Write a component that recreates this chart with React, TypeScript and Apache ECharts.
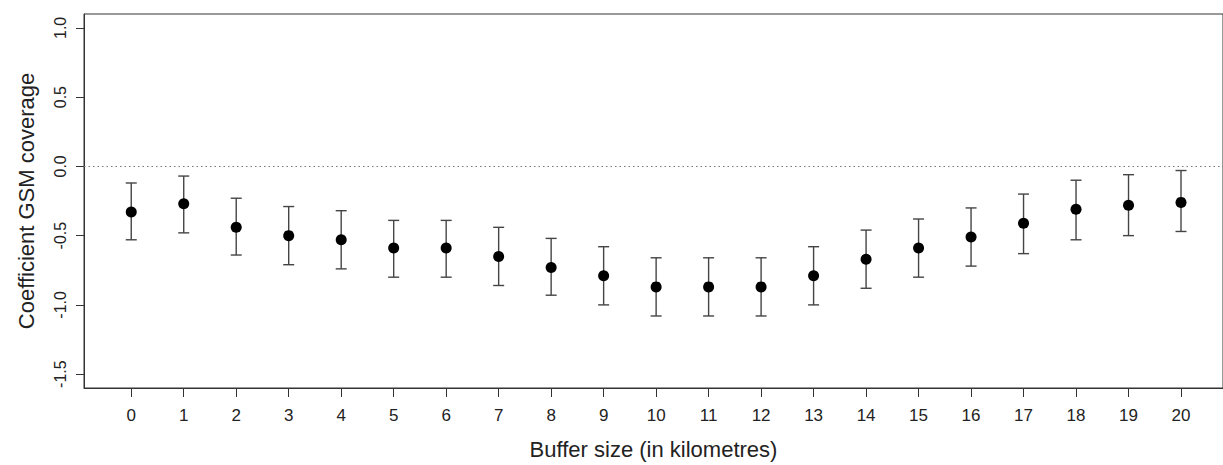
import React, { useEffect, useRef } from "react";
import * as echarts from "echarts";

const bufferSizes = [0, 1, 2, 3, 4, 5, 6, 7, 8, 9, 10, 11, 12, 13, 14, 15, 16, 17, 18, 19, 20];
const estimates = [-0.33, -0.27, -0.44, -0.5, -0.53, -0.59, -0.59, -0.65, -0.73, -0.79, -0.87, -0.87, -0.87, -0.79, -0.67, -0.59, -0.51, -0.41, -0.31, -0.28, -0.26];
const lowerCI = [-0.53, -0.48, -0.64, -0.71, -0.74, -0.8, -0.8, -0.86, -0.93, -1.0, -1.08, -1.08, -1.08, -1.0, -0.88, -0.8, -0.72, -0.63, -0.53, -0.5, -0.47];
const upperCI = [-0.12, -0.07, -0.23, -0.29, -0.32, -0.39, -0.39, -0.44, -0.52, -0.58, -0.66, -0.66, -0.66, -0.58, -0.46, -0.38, -0.3, -0.2, -0.1, -0.06, -0.03];
const yTicks = [-1.5, -1.0, -0.5, 0.0, 0.5, 1.0];
const xTicks = bufferSizes;

const FONT = "Liberation Sans, Arial, Helvetica, sans-serif";

export default function App() {
  const ref = useRef<HTMLDivElement>(null);
  useEffect(() => {
    if (!ref.current) return;
    const chart = echarts.init(ref.current, undefined, { renderer: "svg" });
    chart.setOption({
      animation: false,
      backgroundColor: "#ffffff",
      grid: {
        left: 84,
        top: 14,
        width: 1145,
        height: 378,
        show: true,
        borderColor: "#333",
        borderWidth: 1,
        backgroundColor: "transparent",
      },
      xAxis: {
        type: "value",
        min: -0.9,
        max: 20.8,
        name: "Buffer size (in kilometres)",
        nameLocation: "middle",
        nameGap: 50,
        nameTextStyle: { fontFamily: FONT, fontSize: 22, color: "#222" },
        axisLine: { show: true, onZero: false, lineStyle: { color: "#333", width: 1 } },
        axisTick: { show: true, length: 9, customValues: xTicks, lineStyle: { color: "#333" } },
        axisLabel: {
          customValues: xTicks,
          fontFamily: FONT,
          fontSize: 17,
          color: "#222",
          margin: 19,
        },
        splitLine: { show: false },
      },
      yAxis: {
        type: "value",
        min: -1.6,
        max: 1.1,
        name: "Coefficient GSM coverage",
        nameLocation: "middle",
        nameGap: 47,
        nameRotate: 90,
        nameTextStyle: { fontFamily: FONT, fontSize: 22, color: "#222" },
        axisLine: { show: true, onZero: false, lineStyle: { color: "#333", width: 1 } },
        axisTick: { show: true, length: 8, customValues: yTicks, lineStyle: { color: "#333" } },
        axisLabel: {
          customValues: yTicks,
          rotate: 90,
          fontFamily: FONT,
          fontSize: 16,
          color: "#222",
          margin: 16,
          formatter: (v: number) => v.toFixed(1),
        },
        splitLine: { show: false },
      },
      series: [
        {
          type: "custom",
          data: bufferSizes.map((x, i) => [x, lowerCI[i], upperCI[i]]),
          renderItem: (params: any, api: any) => {
            const x = api.value(0);
            const lo = api.coord([x, api.value(1)]);
            const hi = api.coord([x, api.value(2)]);
            const hw = 5.5;
            const style = { stroke: "#444", lineWidth: 1.4 };
            return {
              type: "group",
              children: [
                { type: "line", shape: { x1: lo[0], y1: lo[1], x2: hi[0], y2: hi[1] }, style },
                { type: "line", shape: { x1: lo[0] - hw, y1: lo[1], x2: lo[0] + hw, y2: lo[1] }, style },
                { type: "line", shape: { x1: hi[0] - hw, y1: hi[1], x2: hi[0] + hw, y2: hi[1] }, style },
              ],
            };
          },
          z: 2,
        },
        {
          type: "scatter",
          data: bufferSizes.map((x, i) => [x, estimates[i]]),
          symbol: "circle",
          symbolSize: 11,
          itemStyle: { color: "#000", opacity: 1 },
          z: 3,
          markLine: {
            silent: true,
            symbol: "none",
            label: { show: false },
            lineStyle: { type: [1.5, 3], color: "#777", width: 1 },
            data: [{ yAxis: 0 }],
          },
        },
      ],
    });
    return () => chart.dispose();
  }, []);
  return (
    <div
      ref={ref}
      style={{ position: "fixed", left: 0, top: 0, width: 1223, height: 465, background: "#fff" }}
    />
  );
}
